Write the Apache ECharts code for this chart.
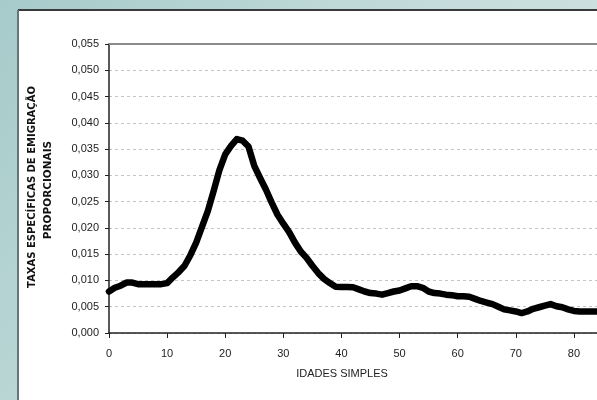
<!DOCTYPE html>
<html>
<head>
<meta charset="utf-8">
<script src="https://cdn.jsdelivr.net/npm/echarts@6/dist/echarts.min.js"></script>
<style>
html,body{margin:0;padding:0;width:597px;height:400px;overflow:hidden;}
#chart{width:597px;height:400px;}
</style>
</head>
<body>
<div id="chart"></div>
<script>
// Ages (idades simples)
const ages = [0,1,2,3,4,5,6,7,8,9,10,11,12,13,14,15,16,17,18,19,20,21,22,23,24,25,26,27,28,29,30,31,32,33,34,35,36,37,38,39,40,41,42,43,44,45,46,47,48,49,50,51,52,53,54,55,56,57,58,59,60,61,62,63,64,65,66,67,68,69,70,71,72,73,74,75,76,77,78,79,80,81,82,83,84];
// Taxas específicas de emigração proporcionais
const rates = [0.0079,0.0086,0.0090,0.0096,0.0096,0.0093,0.0093,0.0093,0.0093,0.0093,0.0095,0.0106,0.0116,0.0128,0.0148,0.0172,0.0202,0.0232,0.0270,0.0310,0.0340,0.0356,0.0369,0.0366,0.0355,0.0318,0.0295,0.0273,0.0248,0.0225,0.0208,0.0192,0.0172,0.0155,0.0143,0.0128,0.0114,0.0103,0.0095,0.0088,0.00875,0.00875,0.0087,0.0083,0.0079,0.0076,0.0075,0.0073,0.0076,0.0079,0.0081,0.0085,0.0089,0.0089,0.0086,0.0079,0.0076,0.0075,0.0073,0.0072,0.0070,0.0070,0.0069,0.0065,0.0061,0.0058,0.0055,0.0050,0.0045,0.0043,0.0041,0.0038,0.0041,0.0046,0.0049,0.0052,0.0055,0.0051,0.0049,0.0045,0.0042,0.0041,0.0041,0.0041,0.0041];
const yTitleLine1 = 'TAXAS ESPECÍFICAS DE EMIGRAÇÃO';
const yTitleLine2 = 'PROPORCIONAIS';
const xTitle = 'IDADES SIMPLES';

const chart = echarts.init(document.getElementById('chart'), null, {renderer:'canvas'});
const data = ages.map((a,i)=>[a, rates[i]]);
chart.setOption({
  animation:false,
  backgroundColor:{type:'linear',x:0,y:0,x2:1,y2:1,colorStops:[{offset:0,color:'#a6cbca'},{offset:0.5,color:'#c4dcdb'},{offset:1,color:'#d6e7e5'}]},
  graphic:[
    {type:'rect',z:-10,shape:{x:18,y:10,width:600,height:400},style:{fill:'#ffffff'}},
    {type:'line',z:-9,shape:{x1:18,y1:10,x2:600,y2:10},style:{stroke:'#3a3a3a',lineWidth:2}},
    {type:'line',z:-9,shape:{x1:18,y1:10,x2:18,y2:400},style:{stroke:'#6e7272',lineWidth:2}},
    {type:'text',x:32,y:187,rotation:Math.PI/2,style:{text:yTitleLine1,font:'bold 10px "DejaVu Sans"',fill:'#111',align:'center',verticalAlign:'middle'}},
    {type:'text',x:48,y:190,rotation:Math.PI/2,style:{text:yTitleLine2,font:'bold 10.5px "DejaVu Sans"',fill:'#111',align:'center',verticalAlign:'middle'}},
    {type:'text',x:342,y:374,style:{text:xTitle,font:'11px "Liberation Sans"',fill:'#222',align:'center',verticalAlign:'middle'}}
  ],
  grid:{left:109,top:44,width:523,height:289,containLabel:false,outerBoundsMode:'none'},
  xAxis:[{
    type:'value',min:0,max:90,interval:10,
    axisLine:{lineStyle:{color:'#222',width:1.5}},
    axisTick:{show:true,length:5,lineStyle:{color:'#222'}},
    axisLabel:{margin:15,color:'#222',fontSize:11,fontFamily:'Liberation Sans'},
    splitLine:{show:false}
  },{
    type:'value',position:'top',min:0,max:90,interval:10,
    axisLine:{show:true,lineStyle:{color:'#8a8a8a',width:2}},
    axisTick:{show:false},axisLabel:{show:false},splitLine:{show:false}
  }],
  yAxis:{
    type:'value',min:0,max:0.055,interval:0.005,
    axisLine:{show:true,lineStyle:{color:'#222',width:1.5}},
    axisTick:{show:true,length:4,lineStyle:{color:'#222'}},
    axisLabel:{margin:10,color:'#222',fontSize:11,fontFamily:'Liberation Sans',formatter:v=>v.toFixed(3).replace('.',',')},
    splitLine:{show:true,lineStyle:{color:'#c4c4c4',type:[3,3],width:1}}
  },
  series:[{
    type:'line',data:data,xAxisIndex:0,showSymbol:false,symbol:'none',smooth:false,
    lineStyle:{color:'#000',width:6.5,join:'round',cap:'round'},
    clip:true
  }]
});
</script>
</body>
</html>
